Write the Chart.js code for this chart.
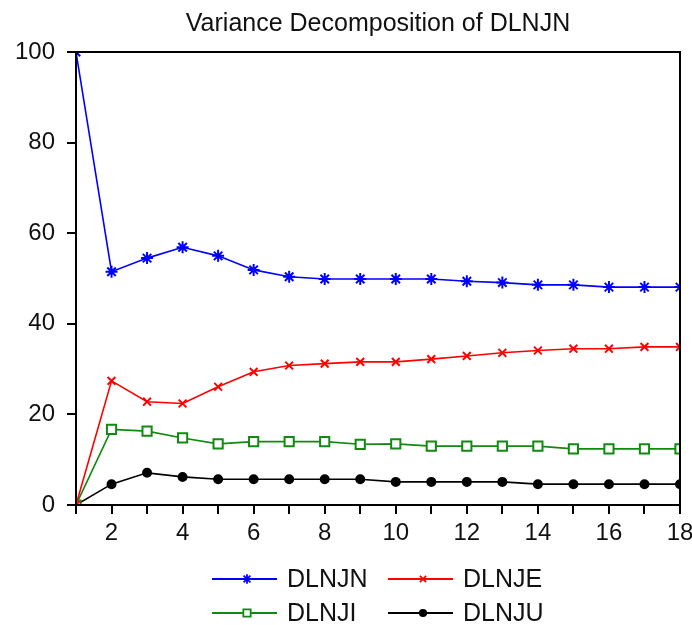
<!DOCTYPE html>
<html lang="en">

<head>
    <meta charset="UTF-8">
    <title>Variance Decomposition of DLNJN</title>
    <script src="https://cdn.jsdelivr.net/npm/chart.js"></script>
    <style>
        body { margin: 0; background: #fff; }
        .caixa { width: 692px; height: 625px; }
    </style>
</head>

<body>
    <div class="caixa">
        <canvas id="graficoVD"></canvas>
    </div>

<script>

    // periods (x axis)
    const periodos = [1, 2, 3, 4, 5, 6, 7, 8, 9, 10, 11, 12, 13, 14, 15, 16, 17, 18];
    const xTicksMostrados = [2, 4, 6, 8, 10, 12, 14, 16, 18];
    const yTicks = [0, 20, 40, 60, 80, 100];

    // series
    const serieNomes = ['DLNJN', 'DLNJE', 'DLNJI', 'DLNJU'];
    const dlnjn = [100, 51.5, 54.5, 56.9, 55.0, 51.9, 50.4, 49.9, 49.9, 49.9, 49.9, 49.4, 49.1, 48.6, 48.6, 48.1, 48.1, 48.1];
    const dlnje = [0, 27.4, 22.8, 22.4, 26.1, 29.4, 30.8, 31.2, 31.6, 31.6, 32.2, 32.9, 33.6, 34.1, 34.5, 34.5, 34.9, 34.9];
    const dlnji = [0, 16.7, 16.3, 14.8, 13.5, 14.0, 14.0, 14.0, 13.4, 13.5, 13.0, 13.0, 13.0, 13.0, 12.4, 12.4, 12.4, 12.4];
    const dlnju = [0, 4.6, 7.1, 6.2, 5.7, 5.7, 5.7, 5.7, 5.7, 5.1, 5.1, 5.1, 5.1, 4.6, 4.6, 4.6, 4.6, 4.6];

    const fonte = 'Arial, "Liberation Sans", sans-serif';

    function montarPontos(valores) {
        return periodos.map(function (p, i) { return { x: p, y: valores[i] }; });
    }

    const estilos = [
        { cor: '#0000ff', ponto: 'star', raio: 6, fundo: '#0000ff' },
        { cor: '#ff0000', ponto: 'crossRot', raio: 5.5, fundo: '#ff0000' },
        { cor: '#108a10', ponto: 'rect', raio: 6.5, fundo: '#ffffff' },
        { cor: '#000000', ponto: 'circle', raio: 4, fundo: '#000000' }
    ];
    const valores = [dlnjn, dlnje, dlnji, dlnju];

    let datasets = [];
    for (let i = 0; i < serieNomes.length; i++) {
        datasets.push({
            label: serieNomes[i],
            data: montarPontos(valores[i]),
            borderColor: estilos[i].cor,
            backgroundColor: estilos[i].cor,
            borderWidth: 1.6,
            pointStyle: estilos[i].ponto,
            pointRadius: estilos[i].raio,
            pointBorderColor: estilos[i].cor,
            pointBackgroundColor: estilos[i].fundo,
            pointBorderWidth: 2,
            tension: 0,
            fill: false
        });
    }

    // box around the plot area
    const molduraPlugin = {
        id: 'moldura',
        afterDatasetsDraw(chart) {
            const a = chart.chartArea;
            const ctx = chart.ctx;
            ctx.save();
            ctx.strokeStyle = '#000';
            ctx.lineWidth = 2;
            ctx.strokeRect(a.left, a.top, a.right - a.left, a.bottom - a.top);
            ctx.restore();
        }
    };

    // 2x2 legend under the chart
    const legendaPlugin = {
        id: 'legendaGrade',
        afterDraw(chart) {
            const ctx = chart.ctx;
            const a = chart.chartArea;
            const centro = (a.left + a.right) / 2;
            const colunas = [centro - 166, centro + 10];
            const linhas = [a.bottom + 74, a.bottom + 108];
            ctx.save();
            for (let i = 0; i < chart.data.datasets.length; i++) {
                const ds = chart.data.datasets[i];
                const x0 = colunas[i % 2];
                const y0 = linhas[Math.floor(i / 2)];
                ctx.strokeStyle = ds.borderColor;
                ctx.lineWidth = 2;
                ctx.beginPath();
                ctx.moveTo(x0, y0);
                ctx.lineTo(x0 + 65, y0);
                ctx.stroke();
                ctx.fillStyle = ds.pointBackgroundColor;
                ctx.strokeStyle = ds.pointBorderColor;
                ctx.lineWidth = 1.8;
                Chart.helpers.drawPoint(ctx, {
                    pointStyle: ds.pointStyle,
                    radius: ds.pointRadius * 0.8,
                    borderWidth: 1.8,
                    rotation: 0
                }, x0 + 35, y0);
                ctx.fillStyle = '#111';
                ctx.font = '25px ' + fonte;
                ctx.textBaseline = 'middle';
                ctx.textAlign = 'left';
                ctx.fillText(ds.label, x0 + 75, y0 + 1);
            }
            ctx.restore();
        }
    };

    const config = {
        type: 'line',
        data: { datasets: datasets },
        plugins: [molduraPlugin, legendaPlugin],
        options: {
            responsive: true,
            maintainAspectRatio: false,
            animation: false,
            layout: { padding: { left: 8, right: 12, top: 0, bottom: 0 } },
            plugins: {
                legend: { display: false },
                tooltip: { enabled: false },
                title: {
                    display: true,
                    fullSize: false,
                    text: 'Variance Decomposition of DLNJN',
                    color: '#111',
                    font: { family: fonte, size: 25, weight: 'normal' },
                    padding: { top: 9, bottom: 13 }
                }
            },
            scales: {
                x: {
                    type: 'linear',
                    min: 1,
                    max: 18,
                    afterFit: function (scale) {
                        scale.height = 120;
                        scale.paddingRight = 0;
                    },
                    border: { display: true, color: '#000', width: 2 },
                    grid: { drawOnChartArea: false, drawTicks: true, tickLength: 9, color: '#000', lineWidth: 2 },
                    ticks: {
                        stepSize: 1,
                        autoSkip: false,
                        maxRotation: 0,
                        padding: 5,
                        color: '#111',
                        font: { family: fonte, size: 24 },
                        callback: function (v) { return xTicksMostrados.includes(v) ? String(v) : ''; }
                    }
                },
                y: {
                    min: yTicks[0],
                    max: yTicks[yTicks.length - 1],
                    afterFit: function (scale) { scale.width = 68; },
                    border: { display: true, color: '#000', width: 2 },
                    grid: { drawOnChartArea: false, drawTicks: true, tickLength: 9, color: '#000', lineWidth: 2 },
                    ticks: {
                        stepSize: 20,
                        padding: 12,
                        color: '#111',
                        font: { family: fonte, size: 24 }
                    }
                }
            }
        }
    };

    let grafico = new Chart(document.getElementById('graficoVD'), config);

</script>
</body>

</html>
